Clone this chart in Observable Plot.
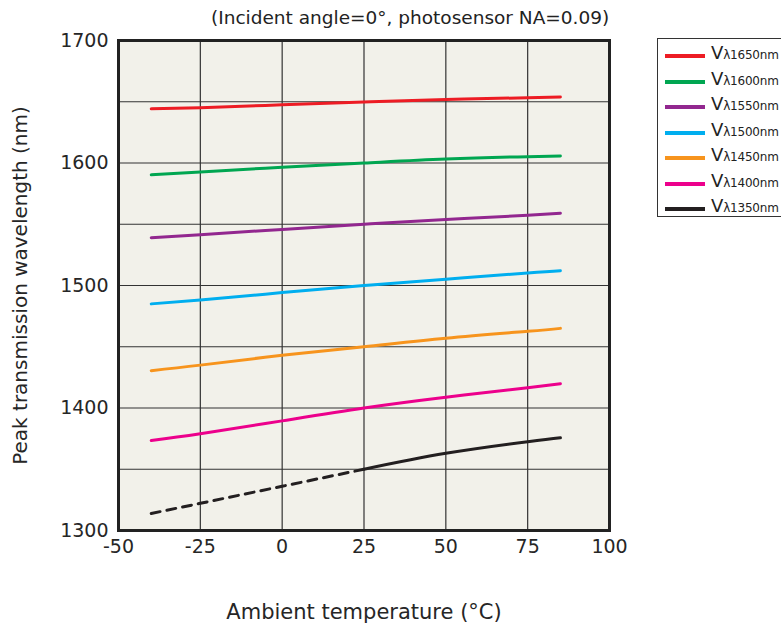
<!DOCTYPE html>
<html>
<head>
<meta charset="utf-8">
<script src="https://cdn.jsdelivr.net/npm/d3@7"></script>
<script src="https://cdn.jsdelivr.net/npm/@observablehq/plot@0.6"></script>
<style>
  body { margin: 0; background: #fff; font-family: "DejaVu Sans", Verdana, sans-serif; }
  #wrap { position: relative; width: 781px; height: 626px; overflow: hidden; }
  #title { position: absolute; left: 211px; top: 7px; font-size: 18.5px; color: #222; white-space: nowrap; }
  #legend { position: absolute; left: 657px; top: 38px; width: 140px; height: 179px; border: 1px solid #333; box-sizing: border-box; background: #fff; }
  .item { position: absolute; left: 7px; height: 22px; white-space: nowrap; color: #222; }
  .item .sw { position: absolute; left: 0; top: 12px; width: 40px; height: 4px; }
  .item .lb { position: absolute; left: 46px; top: 0; font-size: 18px; letter-spacing: -0.2px; }
  .item .lb small { font-size: 12px; }
</style>
</head>
<body>
<div id="wrap">
  <div id="chart"></div>
  <div id="title"></div>
  <div id="legend"></div>
</div>
<script>
const temps = [-40, -25, 0, 25, 50, 75, 85];
const seriesNames = ["λ1650nm", "λ1600nm", "λ1550nm", "λ1500nm", "λ1450nm", "λ1400nm", "λ1350nm"];
const seriesColors = ["#ed1c24", "#00a651", "#92278f", "#00aeef", "#f7941d", "#ec008c", "#231f20"];
const v1650 = [1644.2, 1645.2, 1647.5, 1649.8, 1651.8, 1653.3, 1653.8];
const v1600 = [1590.5, 1592.6, 1596.6, 1600, 1603.2, 1605.2, 1605.7];
const v1550 = [1539, 1541.5, 1545.8, 1550, 1553.8, 1557.4, 1559];
const v1500 = [1485, 1488.2, 1494.2, 1500, 1505.2, 1510.2, 1512];
const v1450 = [1430.5, 1435, 1443, 1450, 1457, 1462.6, 1465];
const v1400 = [1373.5, 1379, 1389.5, 1400, 1408.8, 1416.6, 1419.8];
const v1350 = [1313.9, 1322.2, 1336.1, 1350, 1363, 1372.5, 1375.7];
const xTicks = [-50, -25, 0, 25, 50, 75, 100];
const yTicks = [1300, 1400, 1500, 1600, 1700];
const yGrid = [1300, 1350, 1400, 1450, 1500, 1550, 1600, 1650, 1700];
const titleText = "(Incident angle=0°, photosensor NA=0.09)";
const xLabel = "Ambient temperature (°C)";
const yLabel = "Peak transmission wavelength (nm)";

const allValues = [v1650, v1600, v1550, v1500, v1450, v1400, v1350];
const rows = [];
allValues.forEach((vals, i) => {
  vals.forEach((v, j) => rows.push({series: seriesNames[i], t: temps[j], v}));
});
const solidRows = rows.filter(d => d.series !== "λ1350nm" || d.t >= 25);
const dashedRows = rows.filter(d => d.series === "λ1350nm" && d.t <= 25);

const plot = Plot.plot({
  width: 781,
  height: 626,
  marginLeft: 118,
  marginRight: 172,
  marginTop: 40,
  marginBottom: 96,
  style: { fontFamily: "DejaVu Sans, Verdana, sans-serif", fontSize: "19px", color: "#262626", background: "#fff" },
  x: { domain: [-50, 100] },
  y: { domain: [1300, 1700] },
  color: { domain: seriesNames, range: seriesColors },
  marks: [
    Plot.frame({ fill: "#f2f1ea" }),
    Plot.gridX(xTicks, { stroke: "#333", strokeOpacity: 1, strokeWidth: 1.2 }),
    Plot.gridY(yGrid, { stroke: "#333", strokeOpacity: 1, strokeWidth: 1.2 }),
    Plot.line(solidRows, { x: "t", y: "v", z: "series", stroke: "series", strokeWidth: 3, curve: "natural" }),
    Plot.line(dashedRows, { x: "t", y: "v", stroke: "series", strokeWidth: 3, strokeDasharray: "9,7" }),
    Plot.frame({ stroke: "#222", strokeWidth: 3 }),
    Plot.axisX({ ticks: xTicks, tickSize: 0, tickPadding: 9, fontSize: 19, label: null, tickFormat: d => String(d) }),
    Plot.axisY({ ticks: yTicks, tickSize: 0, tickPadding: 10, fontSize: 19, label: null, tickFormat: d => String(d) }),
    Plot.axisX({ ticks: [], label: xLabel, labelAnchor: "center", labelArrow: "none", labelOffset: 88, fontSize: 21 }),
    Plot.axisY({ ticks: [], label: yLabel, labelAnchor: "center", labelArrow: "none", labelOffset: 106, fontSize: 20 })
  ]
});
document.getElementById("chart").appendChild(plot);
document.getElementById("title").textContent = titleText;

const legend = document.getElementById("legend");
seriesNames.forEach((name, i) => {
  const it = document.createElement("div");
  it.className = "item";
  it.style.top = (3 + i * 25.5) + "px";
  it.innerHTML = `<div class="sw" style="background:${seriesColors[i]}"></div><div class="lb">V<small>${name}</small></div>`;
  legend.appendChild(it);
});
</script>
</body>
</html>
